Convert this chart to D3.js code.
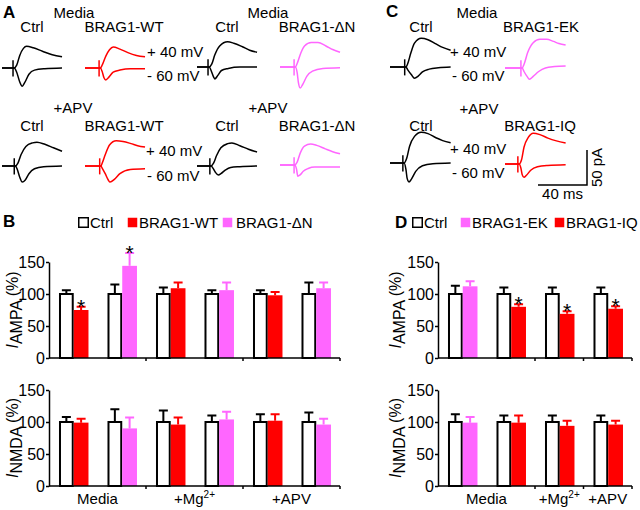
<!DOCTYPE html>
<html>
<head>
<meta charset="utf-8">
<script src="https://cdn.jsdelivr.net/npm/d3@7"></script>
<style>
  body { margin: 0; background: #fff; }
  svg { font-family: "Liberation Sans", Arial, sans-serif; }
</style>
</head>
<body>
<div id="fig"></div>
<script>
// ---- sample traces, [ms, pA] (up = +40 mV, down = -60 mV)
const aMediaCtrl1Up = [[0,0],[10,0],[12,4],[14.5,18],[17.5,28],[20,31],[25.5,29],[33,24],[41,19],[49,16]];
const aMediaCtrl1Down = [[0,0],[10,0],[12,-6],[14.5,-20],[16.5,-26],[18.5,-21],[22,-9],[26.5,-3],[35,-1],[49,0]];
const aMediaWtUp = [[0,0],[12.5,0],[14,4],[17,17],[20,26],[23,30],[28.5,27],[35,22],[42,18],[49,16]];
const aMediaWtDown = [[0,0],[12.5,0],[14,-5],[15.5,-14],[17,-17],[19.5,-13],[23,-6],[28.5,-3],[37,-1],[49,-1]];
const aMediaCtrl2Up = [[0,0],[10,0],[12,4],[14.5,17],[18.5,30],[25,36],[30,34],[37,29],[43,24],[49,21]];
const aMediaCtrl2Down = [[0,0],[10,0],[11.5,-5],[13.5,-14],[14.5,-17],[17,-12],[20,-5],[25.5,-2],[35,0],[49,0]];
const aMediaDnUp = [[0,0],[12.5,0],[14,5],[17,20],[20,30],[25.5,35],[31,35],[37.5,30],[43,25],[49,21]];
const aMediaDnDown = [[0,0],[12.5,0],[14,-8],[15,-22],[16.5,-30],[18.5,-25],[22,-13],[26.5,-6],[35,-2],[49,-1]];

const aApvCtrl1Up = [[0,0],[11,0],[13,4],[15.5,16],[19.5,28],[25,33],[28.5,34],[35,31],[42,26],[49,21]];
const aApvCtrl1Down = [[0,0],[11,0],[12.5,-5],[14.5,-16],[16.5,-23],[19,-20],[22,-11],[26.5,-4],[34,-1],[49,0]];
const aApvWtUp = [[0,0],[13,0],[14,4],[16.5,16],[20,30],[25.5,36],[31,35],[37.5,32],[43,29],[49,27]];
const aApvWtDown = [[0,0],[13,0],[14,-3],[16.5,-11],[19,-20],[20.5,-23],[24,-19],[28.5,-11],[37,-5],[49,-4]];
const aApvCtrl2Up = [[0,0],[11.5,0],[13.5,4],[16,15],[19.5,26],[25,32],[28.5,33],[35,29],[42,24],[49,20]];
const aApvCtrl2Down = [[0,0],[11.5,0],[13,-3],[15,-9],[17.5,-13],[19.5,-11],[23,-6],[27.5,-2],[35,-1],[49,0]];
const aApvDnUp = [[0,0],[12,0],[14,4],[16.5,17],[20,27],[25,30],[30,28],[37,23],[43,19],[49,16]];
const aApvDnDown = [[0,0],[12,0],[13.5,-6],[14.5,-16],[16.5,-14],[19,-9],[23,-5],[28.5,-3],[37,-3],[49,-3]];

const cMediaCtrlUp = [[0,0],[13,0],[14.5,5],[17,20],[20,34],[25.5,41],[31,39],[37.5,33],[43,28],[49.5,24]];
const cMediaCtrlDown = [[0,0],[13,0],[14.5,-4],[17.5,-11],[20,-16],[23,-13],[26.5,-7],[32,-3],[39.5,-1],[49.5,0]];
const cMediaEkUp = [[0,0],[14,0],[15.5,5],[18.5,22],[23,36],[28.5,41],[34,41],[39.5,38],[44,35],[49.5,33]];
const cMediaEkDown = [[0,0],[14,0],[15.5,-5],[18,-12],[20,-16],[23,-12],[27.5,-5],[33,0],[40.5,2],[49.5,3]];
const cApvCtrlUp = [[0,0],[11.5,0],[13.5,6],[16,24],[20,38],[25.5,44],[31,42],[37.5,36],[43,32],[49.5,29]];
const cApvCtrlDown = [[0,0],[11.5,0],[13,-9],[14,-22],[15.5,-27],[17.5,-23],[21,-12],[26.5,-4],[35,-1],[49.5,0]];
const cApvIqUp = [[0,0],[11.5,0],[13.5,6],[15.5,24],[19,38],[23,44],[28.5,42],[35,37],[42,33],[49.5,30]];
const cApvIqDown = [[0,0],[11.5,0],[13,-6],[14,-15],[15.5,-19],[17.5,-16],[21,-9],[26.5,-4],[35,-2],[49.5,-1]];

// stimulus artifact time (ms) for each trace pair, same order as the layout below
const artifactMs = [9, 11.5, 9, 11.5, 10, 12, 10.5, 11.5, 12, 13, 10.5, 10.5];
const scaleBarMs = 40, scaleBarPa = 50;

// ---- bar data (% of ctrl), one slot = ctrl bar + construct bar
const conditions = ["Media", "+Mg", "+APV"];
const bGroupSlots = [2, 2, 2];
const bLegend = ["Ctrl", "BRAG1-WT", "BRAG1-\u0394N"];
const bCtrlAmpa = [100, 100, 100, 100, 100, 100];
const bCtrlAmpaErr = [6, 15, 10, 6, 6, 18];
const bExpAmpa = [75, 144, 109, 106, 98, 109];
const bExpAmpaErr = [5, 20, 9, 12, 5, 9];
const bAmpaSig = [true, true, false, false, false, false];
const bCtrlNmda = [100, 100, 100, 100, 100, 100];
const bCtrlNmdaErr = [8, 20, 18, 10, 12, 15];
const bExpNmda = [99, 90, 96, 104, 102, 96];
const bExpNmdaErr = [6, 17, 11, 12, 10, 9];

const dGroupSlots = [2, 1, 1];
const dLegend = ["Ctrl", "BRAG1-EK", "BRAG1-IQ"];
const dCtrlAmpa = [100, 100, 100, 100];
const dCtrlAmpaErr = [13, 10, 10, 10];
const dExpAmpa = [112, 80, 69, 77];
const dExpAmpaErr = [8, 4, 4, 4];
const dAmpaSig = [false, true, true, true];
const dCtrlNmda = [100, 100, 100, 100];
const dCtrlNmdaErr = [12, 10, 10, 10];
const dExpNmda = [99, 99, 94, 96];
const dExpNmdaErr = [9, 11, 8, 6];

const yTicks = [0, 50, 100, 150];

const RED = "#ff0000", PINK = "#ff66ff", BLACK = "#000";

const svg = d3.select("#fig").append("svg")
  .attr("width", 640)
  .attr("height", 510);

// ---------- traces (A, C)
const tx = d3.scaleLinear().domain([0, 40]).range([0, 49]);
const ty = d3.scaleLinear().domain([0, 50]).range([0, -35]);
const traceLine = d3.line()
  .x(d => tx(d[0]))
  .y(d => ty(d[1]))
  .curve(d3.curveMonotoneX);

const traces = [
  { up: aMediaCtrl1Up, down: aMediaCtrl1Down, x: 2, y: 68, color: BLACK },
  { up: aMediaWtUp, down: aMediaWtDown, x: 85, y: 68, color: RED },
  { up: aMediaCtrl2Up, down: aMediaCtrl2Down, x: 197, y: 67, color: BLACK },
  { up: aMediaDnUp, down: aMediaDnDown, x: 280, y: 67, color: PINK },
  { up: aApvCtrl1Up, down: aApvCtrl1Down, x: 2, y: 166, color: BLACK },
  { up: aApvWtUp, down: aApvWtDown, x: 85, y: 166, color: RED },
  { up: aApvCtrl2Up, down: aApvCtrl2Down, x: 197, y: 166, color: BLACK },
  { up: aApvDnUp, down: aApvDnDown, x: 280, y: 165, color: PINK },
  { up: cMediaCtrlUp, down: cMediaCtrlDown, x: 390, y: 67, color: BLACK },
  { up: cMediaEkUp, down: cMediaEkDown, x: 505, y: 68, color: PINK },
  { up: cApvCtrlUp, down: cApvCtrlDown, x: 390, y: 163, color: BLACK },
  { up: cApvIqUp, down: cApvIqDown, x: 505, y: 164, color: RED }
];

traces.forEach(function (t, i) {
  const g = svg.append("g").attr("transform", "translate(" + t.x + "," + t.y + ")");
  g.selectAll("path")
    .data([t.up, t.down])
    .join("path")
    .attr("d", traceLine)
    .attr("fill", "none")
    .attr("stroke", t.color)
    .attr("stroke-width", 1.5);
  // stimulus artifact
  g.append("line")
    .attr("x1", tx(artifactMs[i])).attr("x2", tx(artifactMs[i]))
    .attr("y1", ty(11)).attr("y2", ty(-12))
    .attr("stroke", t.color)
    .attr("stroke-width", 1.5);
});

function text(x, y, s, opts) {
  opts = opts || {};
  return svg.append("text")
    .attr("x", x).attr("y", y)
    .attr("text-anchor", opts.anchor || "middle")
    .attr("font-size", opts.size || 15)
    .attr("font-weight", opts.bold ? "bold" : null)
    .attr("fill", "#000")
    .text(s);
}

// panel letters
text(3, 18, "A", { anchor: "start", size: 17, bold: true });
text(386, 17, "C", { anchor: "start", size: 17, bold: true });
text(3, 227, "B", { anchor: "start", size: 17, bold: true });
text(395, 228, "D", { anchor: "start", size: 17, bold: true });

// panel A labels
text(74, 18, "Media"); text(268, 18, "Media");
text(32, 32, "Ctrl"); text(124, 32, "BRAG1-WT");
text(227, 32, "Ctrl"); text(317, 32, "BRAG1-\u0394N");
text(147, 57, "+ 40 mV", { anchor: "start" });
text(147, 81, "- 60 mV", { anchor: "start" });
text(73, 113, "+APV"); text(268, 113, "+APV");
text(32, 131, "Ctrl"); text(124, 131, "BRAG1-WT");
text(227, 131, "Ctrl"); text(317, 131, "BRAG1-\u0394N");
text(146, 156, "+ 40 mV", { anchor: "start" });
text(147, 181, "- 60 mV", { anchor: "start" });

// panel C labels
text(477, 18, "Media");
text(421, 32, "Ctrl"); text(541, 32, "BRAG1-EK");
text(450, 57, "+ 40 mV", { anchor: "start" });
text(452, 81, "- 60 mV", { anchor: "start" });
text(479, 114, "+APV");
text(421, 131, "Ctrl"); text(540, 131, "BRAG1-IQ");
text(450, 154, "+ 40 mV", { anchor: "start" });
text(452, 178, "- 60 mV", { anchor: "start" });

// scale bar
const sbX = 587, sbY = 185;
svg.append("path")
  .attr("d", "M" + (sbX - tx(scaleBarMs)) + "," + sbY + "H" + sbX + "V" + (sbY + ty(scaleBarPa)))
  .attr("fill", "none")
  .attr("stroke", BLACK)
  .attr("stroke-width", 1.5);
text(sbX - tx(scaleBarMs) / 2, 199, scaleBarMs + " ms");
svg.append("text")
  .attr("transform", "translate(602," + (sbY + ty(scaleBarPa) / 2) + ") rotate(-90)")
  .attr("text-anchor", "middle")
  .attr("font-size", 15)
  .text(scaleBarPa + " pA");

// ---------- bar charts (B, D)
function barChart(o) {
  const nSlots = o.ctrl.length;
  const x = d3.scaleBand().domain(d3.range(nSlots)).range([o.left, o.left + 48.5 * nSlots]);
  const bw = x.bandwidth();
  const inner = d3.scaleBand().domain(["ctrl", "exp"]).range([bw * 0.206, bw * 0.814]);
  const y = d3.scaleLinear().domain([0, 150]).range([o.bottom, o.bottom - 96]);
  const g = svg.append("g");

  // bars
  const slots = g.selectAll(".slot")
    .data(d3.range(nSlots))
    .join("g")
    .attr("class", "slot")
    .attr("transform", i => "translate(" + x(i) + ",0)");

  function errBar(sel, key, mean, err, color) {
    const cx = inner(key) + inner.bandwidth() / 2;
    sel.append("path")
      .attr("d", i => "M" + cx + "," + y(mean[i]) + "V" + y(mean[i] + err[i]) +
        "M" + (cx - 4.5) + "," + y(mean[i] + err[i]) + "H" + (cx + 4.5))
      .attr("fill", "none")
      .attr("stroke", color)
      .attr("stroke-width", 2);
  }

  errBar(slots, "ctrl", o.ctrl, o.ctrlErr, () => BLACK);
  errBar(slots, "exp", o.exp, o.expErr, i => o.colors[i]);

  slots.append("rect")
    .attr("x", inner("ctrl") + 1)
    .attr("y", i => y(o.ctrl[i]))
    .attr("width", inner.bandwidth() - 2)
    .attr("height", i => y(0) - y(o.ctrl[i]))
    .attr("fill", "#fff")
    .attr("stroke", BLACK)
    .attr("stroke-width", 2);

  slots.append("rect")
    .attr("x", inner("exp"))
    .attr("y", i => y(o.exp[i]))
    .attr("width", inner.bandwidth())
    .attr("height", i => y(0) - y(o.exp[i]))
    .attr("fill", i => o.colors[i]);

  if (o.sig) {
    slots.filter(i => o.sig[i])
      .append("text")
      .attr("x", inner("exp") + inner.bandwidth() / 2)
      .attr("y", i => y(o.exp[i] + o.expErr[i]) + 7)
      .attr("text-anchor", "middle")
      .attr("font-size", 21)
      .text("*");
  }

  // y axis
  const yAxis = g.append("g")
    .attr("transform", "translate(" + o.left + ",0)")
    .call(d3.axisLeft(y).tickValues(yTicks).tickSize(3).tickPadding(1).tickSizeOuter(0));
  yAxis.attr("font-size", 16).attr("font-family", null);
  yAxis.selectAll("path, line").attr("stroke", BLACK).attr("stroke-width", 1.5);
  yAxis.selectAll("text").attr("fill", BLACK);

  // x axis: baseline with ticks at condition boundaries
  const right = o.left + 48.5 * nSlots;
  g.append("line")
    .attr("x1", o.left).attr("x2", right)
    .attr("y1", y(0)).attr("y2", y(0))
    .attr("stroke", BLACK).attr("stroke-width", 1.5);
  let acc = 0;
  o.groups.forEach(function (n) {
    acc += n;
    const bx = x(acc - 1) + bw;
    g.append("line")
      .attr("x1", bx).attr("x2", bx)
      .attr("y1", y(0)).attr("y2", y(0) + 3)
      .attr("stroke", BLACK).attr("stroke-width", 1.5);
  });

  // y label
  const mid = (y(0) + y(150)) / 2;
  const lab = g.append("text")
    .attr("transform", "translate(" + o.labelX + "," + mid + ") rotate(-90)")
    .attr("text-anchor", "middle")
    .attr("font-size", 16);
  lab.append("tspan").attr("font-style", "italic").text("I");
  lab.append("tspan").attr("dy", 4).text(o.sub);
  lab.append("tspan").attr("dy", -4).text(" (%)");

  return x;
}

function conditionLabels(x, groups, yPos) {
  let start = 0;
  groups.forEach(function (n, k) {
    const cx = (x(start) + x(start + n - 1) + x.bandwidth()) / 2;
    start += n;
    const t = text(cx, yPos, conditions[k]);
    if (k === 1) {
      t.append("tspan").attr("font-size", 10).attr("dy", -6).text("2+");
    }
  });
}

function legend(items, colors, xs, sqY, txtY) {
  items.forEach(function (s, i) {
    svg.append("rect")
      .attr("x", xs[i][0] + 0.75).attr("y", sqY + 0.75)
      .attr("width", 9.5).attr("height", 9.5)
      .attr("fill", colors[i])
      .attr("stroke", i === 0 ? BLACK : "none")
      .attr("stroke-width", 1.5);
    text(xs[i][1], txtY, s, { anchor: "start" });
  });
}

const bColors = [RED, PINK, RED, PINK, RED, PINK];
const dColors = [PINK, RED, RED, RED];

legend(bLegend, ["#fff", RED, PINK], [[78, 90], [127, 139], [222, 236]], 217, 228);
legend(dLegend, ["#fff", PINK, RED], [[412, 424], [460, 472], [554, 566]], 217, 228);

const bx = barChart({ left: 49, bottom: 358, ctrl: bCtrlAmpa, ctrlErr: bCtrlAmpaErr,
  exp: bExpAmpa, expErr: bExpAmpaErr, colors: bColors, sig: bAmpaSig,
  groups: bGroupSlots, labelX: 18, sub: "AMPA" });
barChart({ left: 49, bottom: 486, ctrl: bCtrlNmda, ctrlErr: bCtrlNmdaErr,
  exp: bExpNmda, expErr: bExpNmdaErr, colors: bColors,
  groups: bGroupSlots, labelX: 18, sub: "NMDA" });
conditionLabels(bx, bGroupSlots, 504);

const dx = barChart({ left: 438, bottom: 358, ctrl: dCtrlAmpa, ctrlErr: dCtrlAmpaErr,
  exp: dExpAmpa, expErr: dExpAmpaErr, colors: dColors, sig: dAmpaSig,
  groups: dGroupSlots, labelX: 401, sub: "AMPA" });
barChart({ left: 438, bottom: 486, ctrl: dCtrlNmda, ctrlErr: dCtrlNmdaErr,
  exp: dExpNmda, expErr: dExpNmdaErr, colors: dColors,
  groups: dGroupSlots, labelX: 401, sub: "NMDA" });
conditionLabels(dx, dGroupSlots, 504);
</script>
</body>
</html>
